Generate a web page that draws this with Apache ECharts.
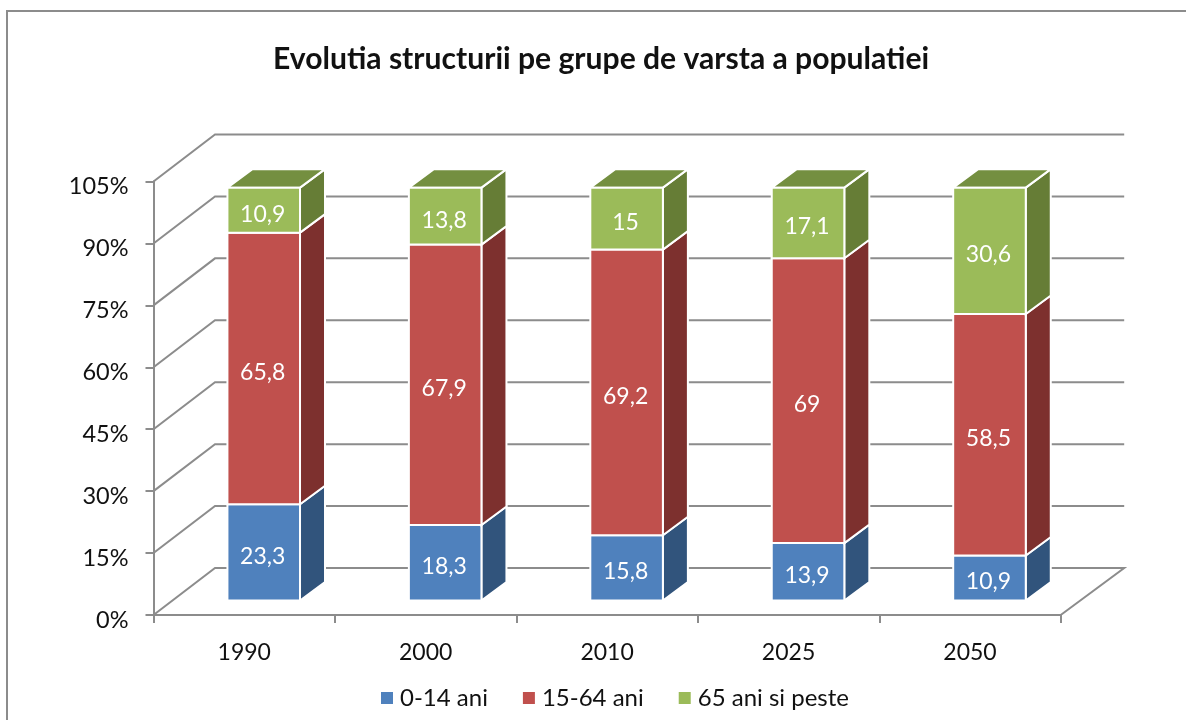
<!DOCTYPE html>
<html>
<head>
<meta charset="utf-8">
<style>html,body{margin:0;padding:0;background:#fff}#c{width:1186px;height:720px}</style>
<script src="https://cdn.jsdelivr.net/npm/echarts@6/dist/echarts.min.js"></script>
</head>
<body>
<div id="c"></div>
<script>
const titleText = 'Evolutia structurii pe grupe de varsta a populatiei';
const categories = ['1990', '2000', '2010', '2025', '2050'];
const seriesNames = ['0-14 ani', '15-64 ani', '65 ani si peste'];
const young = [23.3, 18.3, 15.8, 13.9, 10.9];
const working = [65.8, 67.9, 69.2, 69, 58.5];
const old = [10.9, 13.8, 15, 17.1, 30.6];
const yTicks = [0, 15, 30, 45, 60, 75, 90, 105];

const FONT = 'Lato';
const GREY = '#8c8c8c';
const WALL = { dx: 61.5, dy: -47, dxRight: 63.5 };
const BAR_SHIFT = { dx: 19.5, dy: -14.5 };
const BAR_DEPTH = { dx: 25, dy: -18.5 };
const BAR_RATIO = 0.4;
const palette = [
  { front: '#4f81bd', side: '#31547c', top: '#3f6797' },
  { front: '#c0504d', side: '#7d302e', top: '#9a403d' },
  { front: '#9bbb59', side: '#667d36', top: '#748f40' }
];

function wallItem(params, api) {
  const v = api.value(0);
  const cs = params.coordSys;
  const y = api.coord([0, v])[1];
  const xL = cs.x, xR = cs.x + cs.width;
  const style = { stroke: GREY, lineWidth: 2, fill: null };
  const pts = [[xL, y], [xL + WALL.dx, y + WALL.dy], [xR + WALL.dxRight, y + WALL.dy]];
  if (v === 0) pts.push([xR, y]);
  return { type: 'polyline', shape: { points: pts }, style: style, silent: true };
}

function barRenderer(sIdx, isTop) {
  return function (params, api) {
    const cat = api.value(0), base = api.value(1), val = api.value(2);
    const c0 = api.coord([cat, base]);
    const c1 = api.coord([cat, base + val]);
    const hw = api.size([1, 0])[0] * BAR_RATIO / 2;
    const xl = c0[0] - hw + BAR_SHIFT.dx, xr = c0[0] + hw + BAR_SHIFT.dx;
    const yb = c0[1] + BAR_SHIFT.dy, yt = c1[1] + BAR_SHIFT.dy;
    const col = palette[sIdx];
    const edge = { stroke: '#ffffff', lineWidth: 2, lineJoin: 'miter' };
    const poly = (pts, fill) => ({
      type: 'polygon', shape: { points: pts },
      style: Object.assign({ fill: fill }, edge)
    });
    const children = [
      poly([[xr, yb], [xr + BAR_DEPTH.dx, yb + BAR_DEPTH.dy], [xr + BAR_DEPTH.dx, yt + BAR_DEPTH.dy], [xr, yt]], col.side)
    ];
    if (isTop) {
      children.push(poly([[xl, yt], [xr, yt], [xr + BAR_DEPTH.dx, yt + BAR_DEPTH.dy], [xl + BAR_DEPTH.dx, yt + BAR_DEPTH.dy]], col.top));
    }
    children.push(poly([[xl, yb], [xr, yb], [xr, yt], [xl, yt]], col.front));
    children.push({
      type: 'text',
      z2: 10,
      style: {
        text: String(val).replace('.', ','),
        x: (xl + xr) / 2 - 1, y: (yb + yt) / 2 + 4,
        fill: '#ffffff', font: '23px ' + FONT, align: 'center', verticalAlign: 'middle'
      }
    });
    return { type: 'group', children: children };
  };
}

function stacked(values, bases) {
  return values.map((v, i) => [i, bases[i], v]);
}
const base0 = categories.map(() => 0);
const base1 = young.slice();
const base2 = young.map((v, i) => v + working[i]);
const stacks = [stacked(young, base0), stacked(working, base1), stacked(old, base2)];

const chart = echarts.init(document.getElementById('c'), null, { renderer: 'canvas' });
chart.setOption({
  animation: false,
  backgroundColor: '#ffffff',
  title: {
    text: titleText,
    left: 273, top: 44,
    padding: 0,
    textStyle: { fontFamily: FONT, fontSize: 30.1, fontWeight: 'bold', color: '#111111' }
  },
  legend: {
    data: seriesNames,
    left: 381, top: 686,
    padding: 0,
    icon: 'rect',
    itemWidth: 12, itemHeight: 12, itemGap: 35,
    selectedMode: false,
    textStyle: { fontFamily: FONT, fontSize: 24, color: '#111111', padding: [6, 0, 0, 2] }
  },
  grid: { left: 153.5, right: 125.3, top: 181.5, bottom: 105, containLabel: false },
  xAxis: {
    type: 'category',
    data: categories,
    axisLine: { show: true, lineStyle: { color: GREY, width: 2 } },
    axisTick: { show: true, length: 8, alignWithLabel: false, lineStyle: { color: GREY, width: 2 } },
    axisLabel: { fontFamily: FONT, fontSize: 23, color: '#111111', margin: 26 }
  },
  yAxis: {
    type: 'value',
    min: 0, max: 105, interval: 15,
    axisLine: { show: true, lineStyle: { color: GREY, width: 2 } },
    axisTick: { show: true, length: 8, lineStyle: { color: GREY, width: 2 } },
    splitLine: { show: false },
    axisLabel: {
      fontFamily: FONT, fontSize: 23.5, color: '#111111', margin: 25,
      formatter: '{value}%', verticalAlign: 'top', lineHeight: 10
    }
  },
  graphic: [{
    type: 'rect', silent: true, z: -10,
    shape: { x: 7, y: 11, width: 1400, height: 1000 },
    style: { fill: null, stroke: GREY, lineWidth: 2 }
  }],
  tooltip: { show: false },
  series: [
    {
      type: 'custom', name: 'walls', coordinateSystem: 'cartesian2d', z: 1, silent: true,
      data: yTicks.map(v => [v]),
      encode: { y: 0 },
      renderItem: wallItem
    }
  ].concat(seriesNames.map((name, i) => ({
    type: 'custom', name: name, coordinateSystem: 'cartesian2d', z: 3 + i, silent: true,
    itemStyle: { color: palette[i].front },
    data: stacks[i],
    encode: { x: 0, y: [1, 2] },
    renderItem: barRenderer(i, i === seriesNames.length - 1)
  })))
});
</script>
</body>
</html>
